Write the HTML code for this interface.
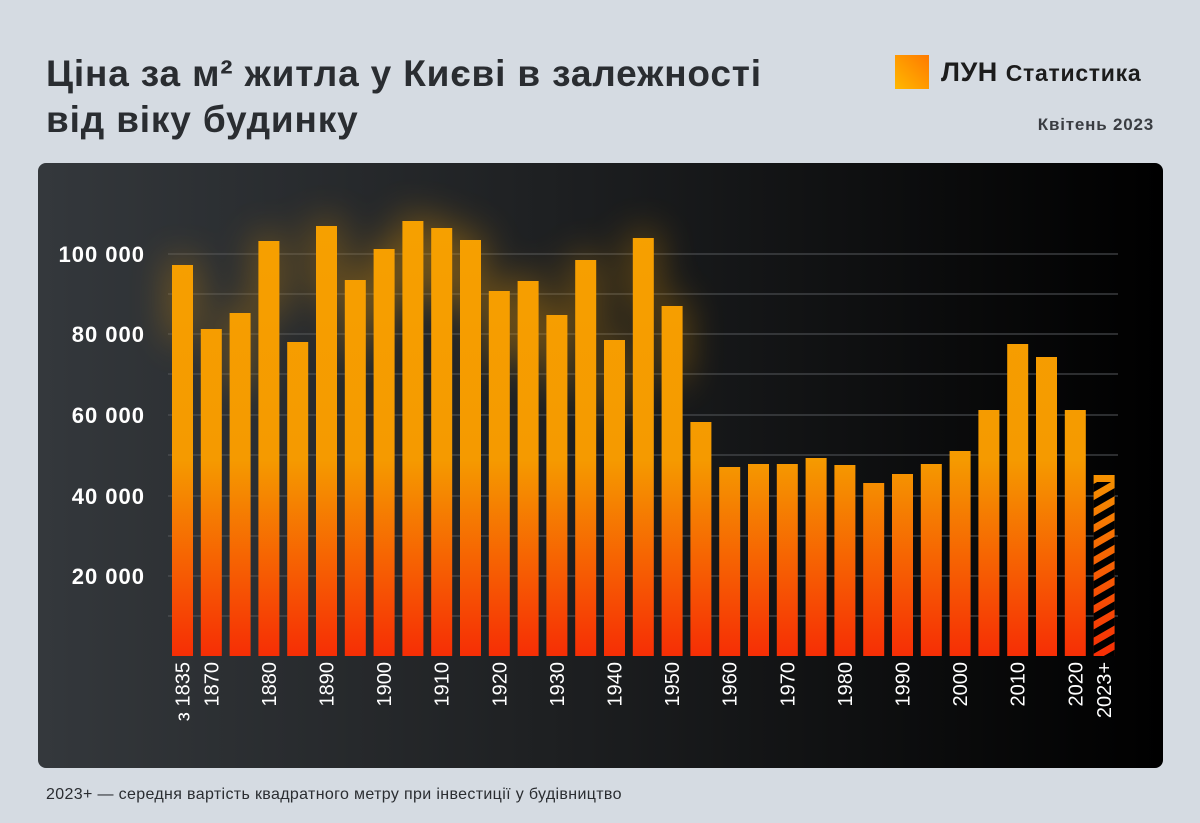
<!DOCTYPE html>
<html><head><meta charset="utf-8"><style>
body{margin:0;width:1200px;height:823px;background:#d5dbe2;font-family:"Liberation Sans",sans-serif;overflow:hidden;position:relative}
.t{position:absolute;left:46px;top:51px;font-size:37px;letter-spacing:0.85px;font-weight:bold;line-height:46px;color:#2a2d31}
.logo{position:absolute;left:895px;top:55px;width:34px;height:34px;background:linear-gradient(225deg,#ff7a00,#ffb800)}
.lt{position:absolute;left:941px;top:57px;font-size:27px;font-weight:bold;color:#1c1c1c;letter-spacing:0.5px}
.lt span{font-size:23px;letter-spacing:0.7px}
.d{position:absolute;right:46px;top:115px;font-size:17px;letter-spacing:0.8px;font-weight:bold;color:#3a3d42}
.f{position:absolute;left:46px;top:786px;font-size:16px;letter-spacing:0.35px;color:#2a2d31}
svg{position:absolute;left:0;top:0}
</style></head><body>
<div class="t">Ціна за м² житла у Києві в залежності<br>від віку будинку</div>
<div class="logo"></div>
<div class="lt">ЛУН <span>Статистика</span></div>
<div class="d">Квітень 2023</div>
<svg width="1200" height="823" xmlns="http://www.w3.org/2000/svg">
<defs>
<linearGradient id="bg" x1="0" x2="1" y1="0" y2="0"><stop offset="0" stop-color="#34383c"/><stop offset="0.45" stop-color="#1e2022"/><stop offset="1" stop-color="#000"/></linearGradient>
<linearGradient id="bar" gradientUnits="userSpaceOnUse" x1="0" y1="220" x2="0" y2="656"><stop offset="0" stop-color="#f6a000"/><stop offset="0.55" stop-color="#f59a00"/><stop offset="1" stop-color="#f62e05"/></linearGradient>
<pattern id="hatch" patternUnits="userSpaceOnUse" width="14" height="14" patternTransform="rotate(-30)"><rect width="14" height="7" fill="#000"/></pattern>
<filter id="gl" x="-50%" y="-50%" width="200%" height="200%"><feGaussianBlur stdDeviation="18"/></filter>
</defs>
<rect x="38" y="163" width="1125" height="605" rx="8" fill="url(#bg)"/>
<g stroke="#55585c" stroke-width="1">
<line x1="168" x2="1118" y1="254" y2="254"/><line x1="168" x2="1118" y1="294" y2="294"/><line x1="168" x2="1118" y1="334" y2="334"/><line x1="168" x2="1118" y1="374" y2="374"/><line x1="168" x2="1118" y1="415" y2="415"/><line x1="168" x2="1118" y1="455" y2="455"/><line x1="168" x2="1118" y1="496" y2="496"/><line x1="168" x2="1118" y1="536" y2="536"/><line x1="168" x2="1118" y1="576" y2="576"/><line x1="168" x2="1118" y1="616" y2="616"/>
</g>
<g fill="#fff" font-size="22" font-weight="bold" text-anchor="end" letter-spacing="1">
<text x="145" y="262">100 000</text><text x="145" y="342">80 000</text><text x="145" y="423">60 000</text><text x="145" y="504">40 000</text><text x="145" y="584">20 000</text>
</g>
<g id="bars"></g>
<g id="labels" fill="#fff" font-size="20"></g>
</svg>
<div class="f">2023+ — середня вартість квадратного метру при інвестиції у будівництво</div>
<script>
var tops=[265,329,313,241,342,226,280,249,221,228,240,291,281,315,260,340,238,306,422,467,464,464,458,465,483,474,464,451,410,344,357,410,475];
var labs={0:"з 1835",1:"1870",3:"1880",5:"1890",7:"1900",9:"1910",11:"1920",13:"1930",15:"1940",17:"1950",19:"1960",21:"1970",23:"1980",25:"1990",27:"2000",29:"2010",31:"2020",32:"2023+"};
var ns="http://www.w3.org/2000/svg",b=document.getElementById("bars"),l=document.getElementById("labels");
function el(n,a,p){var e=document.createElementNS(ns,n);for(var k in a)e.setAttribute(k,a[k]);p.appendChild(e);return e;}
var glow=el("g",{filter:"url(#gl)",opacity:"0.35"},b);
for(var i=0;i<33;i++){var x=172+i*28.8;
 if(i<18&&i!=1&&i!=4)el("rect",{x:x-4,y:tops[i]-6,width:29,height:80,fill:"#f6a000"},glow);}
for(var i=0;i<33;i++){var x=172+i*28.8;
 el("rect",{x:x,y:tops[i],width:21,height:656-tops[i],fill:"url(#bar)"},b);
 if(i==32)el("rect",{x:x,y:tops[i]+7,width:21,height:656-tops[i]-7,fill:"url(#hatch)"},b);
 if(labs[i]){var cx=x+10.5+7;var t=el("text",{x:0,y:0,"text-anchor":"end",transform:"translate("+cx+",662) rotate(-90)"},l);t.textContent=labs[i];}
}
</script>
</body></html>
